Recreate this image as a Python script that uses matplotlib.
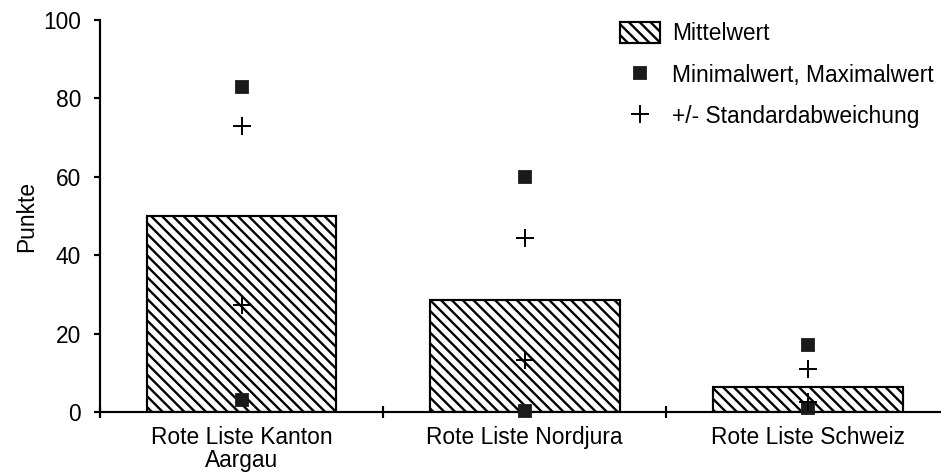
import matplotlib.pyplot as plt
from matplotlib.lines import Line2D
from matplotlib.patches import Patch
import numpy as np

plt.rcParams["font.family"] = ["Liberation Sans", "DejaVu Sans"]
plt.rcParams["hatch.linewidth"] = 1.3

categories = ["Rote Liste Kanton\nAargau", "Rote Liste Nordjura", "Rote Liste Schweiz"]
mean_vals = [50, 28.5, 6.3]
max_vals = [83, 60, 17]
min_vals = [3, 0.3, 1]
sd_upper = [73, 44.5, 11]
sd_lower = [27.3, 13.3, 2.5]

dpi = 130
fig = plt.figure(figsize=(941 / dpi, 476 / dpi), dpi=dpi)
ax = fig.add_axes([100 / 941, 64 / 476, 841 / 941, 392 / 476])

x = np.arange(len(categories)) + 0.5
fs = 12.6

ax.bar(x, mean_vals, width=0.67, facecolor="white", edgecolor="black",
       linewidth=1.2, hatch="\\\\\\\\")
ax.plot(x, max_vals, "s", color="#1a1a1a", markersize=6.5, clip_on=False, zorder=4)
ax.plot(x, min_vals, "s", color="#1a1a1a", markersize=6.5, clip_on=False, zorder=4)
ax.plot(x, sd_upper, "+", color="black", markersize=10, markeredgewidth=1.1,
        clip_on=False, zorder=4)
ax.plot(x, sd_lower, "+", color="black", markersize=10, markeredgewidth=1.1,
        clip_on=False, zorder=4)

ax.set_xlim(0, 2.97)
ax.set_ylim(0, 100)
ax.set_yticks([0, 20, 40, 60, 80, 100])
ax.tick_params(axis="y", direction="out", length=3.5, width=1.2, pad=7,
               labelsize=fs)
ax.set_xticks([0, 1, 2])
ax.set_xticklabels([])
ax.tick_params(axis="x", which="major", direction="inout", length=7, width=1.2)
ax.set_xticks(x, minor=True)
ax.set_xticklabels(categories, minor=True, fontsize=fs, linespacing=1.0)
ax.tick_params(axis="x", which="minor", length=0, pad=8)

for s in ["top", "right"]:
    ax.spines[s].set_visible(False)
for s in ["left", "bottom"]:
    ax.spines[s].set_linewidth(1.2)

ax.set_ylabel("Punkte", fontsize=fs, labelpad=3)

handles = [
    Patch(facecolor="white", edgecolor="black", hatch="\\\\\\\\", linewidth=1.2),
    Line2D([], [], marker="s", linestyle="none", color="#1a1a1a", markersize=6.5),
    Line2D([], [], marker="+", linestyle="none", color="black", markersize=10,
           markeredgewidth=1.1),
]
labels = ["Mittelwert", "Minimalwert, Maximalwert", "+/- Standardabweichung"]
fig.legend(handles, labels, loc="upper left",
           bbox_to_anchor=(620 / 941, 1 - 22 / 476), frameon=False,
           fontsize=fs, handlelength=1.78, handleheight=1.05, handletextpad=0.5,
           labelspacing=0.8, borderpad=0, borderaxespad=0)

fig.savefig("out.png", dpi=dpi)
